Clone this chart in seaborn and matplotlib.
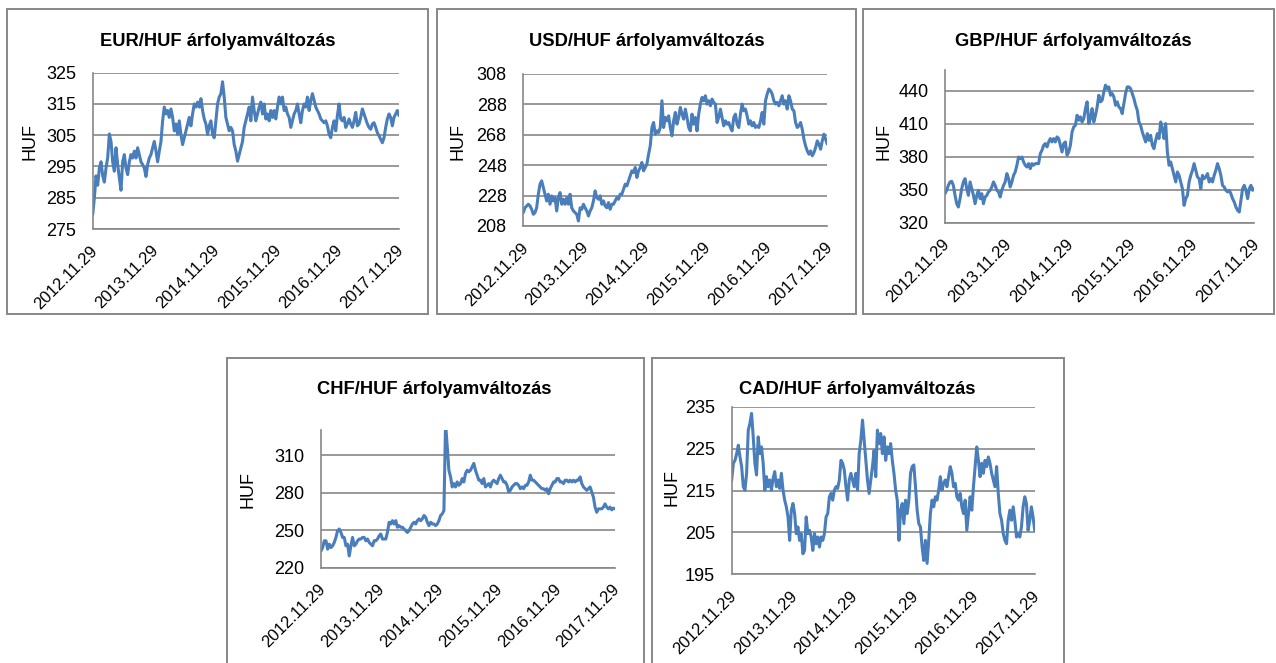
import pandas as pd
import matplotlib.pyplot as plt
import matplotlib.transforms as mtransforms
from matplotlib.patches import Rectangle
import seaborn as sns

# Tick labels / date range shared by all five panels
tick_labels = ["2012.11.29", "2013.11.29", "2014.11.29", "2015.11.29", "2016.11.29", "2017.11.29"]
start_date, end_date = "2012-11-29", "2017-11-29"

# Exchange rates (HUF), evenly spaced between start and end
eur_huf = [279.6, 285, 292, 289, 294.5, 296.5, 292, 290, 294.5, 297.8, 305.4, 303, 296.5, 293.5, 301,
           295.6, 291.3, 287.4, 296.5, 298.8, 294.5, 292.4, 296.5, 298.8, 297.7, 299.9, 297.7, 301, 298.8,
           296.5, 295.6, 294.5, 291.8, 295.6, 297.7, 298.8, 301, 303, 300, 296.5, 299.9, 303, 309.6, 314,
           311.8, 312.9, 310.7, 313.4, 310.7, 306.4, 308.6, 305.3, 309.6, 305.3, 302, 304.2, 306.4, 308.6,
           310.7, 308, 311.8, 315, 314, 315.6, 314, 316.7, 312.9, 310.2, 308.6, 305.3, 308, 309.6, 305.3,
           304.2, 309.6, 315, 317.2, 318.3, 322.1, 317.2, 310.7, 308.6, 306.4, 307.5, 306.4, 302, 299.9,
           296.7, 298.8, 301, 303, 307.5, 309.6, 311.8, 314, 309.6, 317.2, 312.9, 309.6, 311.8, 314, 315.6,
           311.8, 315, 310.2, 311.8, 309.6, 312.9, 310.7, 312.9, 310.2, 314, 317.2, 315, 317.2, 312.9, 314,
           311.8, 310.7, 307.5, 309.6, 311.8, 312.9, 315, 311.8, 309, 312.9, 315, 314, 317.2, 312.9, 316.1,
           318.3, 316.1, 314, 312.9, 311.8, 310.2, 309.6, 309, 309.6, 308, 305.3, 304.2, 307.5, 309.6, 306.4,
           311.3, 315, 310.2, 309.6, 310.7, 307.5, 308.6, 310.2, 308.6, 307.5, 309.6, 312.3, 308, 308.6,
           310.7, 313.4, 311.8, 310.2, 308.6, 307.5, 306.9, 308.6, 309, 307.5, 305.8, 304.8, 303.7, 302.6,
           304.2, 307.5, 310.2, 311.8, 310.7, 308, 310.7, 311.8, 312.9, 311.3]

usd_huf = [216.8, 220, 221.2, 222.3, 221.2, 219, 215.7, 216.8, 220, 228.9, 235.5, 237.7, 233.3, 228.9,
           224.5, 228.9, 222.3, 227.8, 224.5, 226.7, 217.9, 226.7, 230, 222.3, 225.6, 222.3, 226.7, 222.3,
           228.9, 220, 217.9, 216.8, 215.7, 211.3, 220, 219, 222.3, 220, 217.9, 214.6, 217.9, 220, 224.5,
           231.1, 226.7, 225.6, 227.8, 222.3, 224.5, 221.2, 220, 223.4, 219, 222.3, 222.3, 224.5, 226.7,
           225.6, 228.9, 228.9, 232.2, 235.5, 234.4, 237.7, 241, 244.3, 243.2, 246.5, 239.9, 244.3, 246.5,
           249.8, 244.3, 246.5, 248.7, 255.2, 260.7, 272.8, 276.1, 268.4, 270.6, 269.5, 272.8, 290.4, 272.8,
           279.4, 277.2, 280.5, 272.8, 267.3, 277.2, 282.7, 275, 279.4, 286, 281.6, 278.3, 284.9, 279.4,
           272.8, 270.6, 281.6, 275, 279.4, 270.6, 281.6, 288.2, 292.6, 290.4, 293.7, 288.2, 290.4, 287.1,
           291.5, 289.3, 288.2, 276.1, 279.4, 284.9, 279.4, 273.9, 277.2, 275, 276.1, 272.8, 270.6, 279.4,
           281.6, 275, 272.8, 281.6, 288.2, 283.8, 284.9, 280.5, 275, 277.2, 273.9, 276.1, 272.8, 273.9,
           272.8, 277.2, 282.7, 275, 290.4, 294.8, 298.1, 297, 294.8, 290.4, 288.2, 289.3, 287.1, 290.4,
           293.7, 288.2, 290.4, 284.9, 293.7, 290.4, 284.9, 283.8, 276.1, 272.8, 273.9, 276.1, 271.7, 265.1,
           260.7, 257.4, 255.2, 257.4, 254.2, 256.3, 259.6, 264, 261.8, 258.5, 264, 268.4, 265.1, 261.8]

gbp_huf = [346.4, 349.5, 354, 357.1, 357.7, 354, 344.9, 337.3, 334.3, 341.9, 351, 357.1, 360.1, 351,
           344.9, 357.1, 351, 344.9, 337.3, 344.9, 349.5, 341.9, 346.4, 337.3, 343.4, 344.9, 348, 349.5,
           352.5, 357.1, 354, 349.5, 348, 343.4, 349.5, 354, 357.1, 364.7, 360.1, 352.5, 357.1, 363.1, 366.2,
           372.3, 379.8, 378.3, 379.8, 375.3, 372.3, 370.7, 373.8, 369.2, 373.8, 372.3, 373.8, 373.8, 373.8,
           382.9, 385.9, 390.5, 392, 389, 393.5, 396.6, 393.5, 396.6, 393.5, 398.1, 396.6, 390.5, 384.4, 392,
           393.5, 381.4, 384.4, 390.5, 402.6, 407.2, 408.7, 417.8, 413.3, 416.3, 411.7, 414.8, 423.9, 430,
           410.2, 414.8, 423.9, 411.7, 417.8, 425.4, 436, 430, 431.5, 439.1, 445.2, 442.1, 443.6, 436, 437.6,
           434.5, 426.9, 430, 425.4, 423.9, 419.3, 428.5, 437.6, 443.6, 443.6, 442.1, 437.6, 433, 426.9,
           422.4, 411.7, 408.7, 402.6, 398.1, 393.5, 401.1, 395, 399.6, 390.5, 387.4, 395, 401.1, 396.6,
           411.7, 405.7, 396.6, 410.2, 384.4, 372.3, 375.3, 369.2, 363.1, 357.1, 366.2, 363.1, 357.1, 351,
           335.8, 341.9, 344.9, 357.1, 363.1, 367.7, 373.8, 367.7, 361.6, 360.1, 351, 363.1, 360.1, 361.6,
           364.7, 357.1, 360.1, 357.1, 363.1, 367.7, 373.8, 369.2, 363.1, 354, 352.5, 349.5, 348, 349.5,
           346.4, 341.9, 338.8, 334.3, 331.2, 329.7, 340.4, 351, 354, 349.5, 341.9, 351, 354, 349.5, 351]

chf_huf = [233.4, 236.1, 241.5, 241.5, 234.8, 238.8, 236.1, 237.5, 240.2, 244.2, 249.6, 250.9, 248.2,
           244.2, 244.2, 237.5, 238.8, 229.4, 237.5, 244.2, 237.5, 238.8, 241.5, 242.9, 242.9, 244.2, 244.2,
           241.5, 242.9, 240.2, 238.8, 237.5, 241.5, 241.5, 242.9, 245.5, 246.9, 242.9, 242.9, 242.9, 248.2,
           256.3, 254.9, 257.6, 254.9, 257.6, 252.3, 253.6, 252.3, 252.3, 250.9, 249.6, 248.2, 249.6, 252.3,
           254.9, 256.3, 254.9, 257.6, 259, 257.6, 259, 261.7, 260.3, 256.3, 253.6, 256.3, 254.9, 254.9,
           253.6, 254.9, 257.6, 261.7, 263, 265.7, 335.5, 316.7, 297.9, 292.5, 284.5, 287.2, 284.5, 288.5,
           285.8, 287.2, 291.2, 288.5, 295.2, 297.9, 296.6, 297.9, 300.6, 303.3, 297.9, 293.9, 289.9, 289.9,
           287.2, 291.2, 284.5, 285.8, 287.2, 284.5, 288.5, 289.9, 288.5, 287.2, 291.2, 293.9, 291.2, 288.5,
           288.5, 285.8, 280.5, 281.8, 284.5, 285.8, 287.2, 287.2, 285.8, 283.1, 284.5, 283.1, 285.8, 285.8,
           288.5, 293.9, 289.9, 289.9, 288.5, 287.2, 285.8, 284.5, 283.1, 283.1, 281.8, 283.1, 279.1, 283.1,
           285.8, 288.5, 288.5, 291.2, 291.2, 288.5, 288.5, 287.2, 289.9, 289.9, 288.5, 289.9, 288.5, 289.9,
           288.5, 289.9, 289.9, 292.5, 287.2, 284.5, 283.1, 281.8, 283.1, 284.5, 280.5, 276.4, 268.4, 264.3,
           267, 267, 267, 268.4, 271, 268.4, 267, 268.4, 266.2, 267.6, 267]

cad_huf = [217.5, 221.5, 222.2, 223.8, 225.8, 223, 220.7, 215.9, 215.1, 219.1, 229.4, 231, 233.4, 227.8,
           221.5, 218.7, 227.8, 223.8, 225.4, 221.5, 215.1, 218.3, 215.9, 217.5, 215.1, 217.9, 219.5, 215.9,
           217.5, 215.5, 219.1, 215.1, 212.7, 211.1, 208.7, 203.1, 210.3, 211.9, 209.5, 204.7, 206.3, 203.1,
           204.7, 199.9, 200.7, 208.7, 204.7, 205.5, 203.9, 200.7, 204.7, 202.3, 203.9, 201.5, 203.9, 203.1,
           204.7, 208.7, 209.5, 213.5, 214.3, 212.7, 215.1, 215.9, 215.5, 217.5, 222.2, 221.5, 219.9, 215.9,
           212.7, 217.5, 219.1, 217.5, 215.9, 219.1, 215.1, 223.8, 227, 231.8, 227, 222.2, 217.5, 214.3,
           217.5, 220.7, 224.6, 218.3, 229.4, 226.2, 228.6, 223.8, 227.8, 222.2, 225.4, 223.8, 226.2, 222.2,
           219.1, 215.1, 212.7, 203.1, 210.3, 211.9, 207.1, 212.7, 209.5, 212.7, 219.1, 220.7, 221.1, 215.9,
           210.3, 207.1, 206.3, 201.5, 198.3, 203.1, 197.6, 203.1, 209.5, 212.7, 211.1, 213.5, 212.7, 215.1,
           218.3, 215.1, 216.7, 217.5, 215.9, 218.3, 220.7, 219.1, 215.9, 216.7, 213.5, 212.7, 214.3, 211.1,
           209.5, 212.7, 205.5, 209.5, 213.5, 210.3, 215.9, 220.7, 225.4, 222.2, 218.3, 221.5, 219.1, 222.2,
           220.7, 223, 221.5, 219.1, 217.5, 215.9, 220.7, 214.3, 209.5, 207.9, 204.7, 203.1, 202.3, 207.9,
           210.3, 207.9, 211.1, 207.9, 203.9, 204.7, 203.9, 206.3, 211.1, 213.5, 211.9, 205.5, 207.9, 211.1,
           208.7, 205.5]

titles = ["EUR/HUF árfolyamváltozás", "USD/HUF árfolyamváltozás", "GBP/HUF árfolyamváltozás",
          "CHF/HUF árfolyamváltozás", "CAD/HUF árfolyamváltozás"]

sns.set_theme(style="white")
plt.rcParams["font.family"] = ["Liberation Sans", "DejaVu Sans"]

W, H = 1276, 663
LINE = "#4a7ebb"
GRAY = "#878787"

fig = plt.figure(figsize=(W / 100, H / 100), dpi=100)


def px_rect(x0, y0, x1, y1):
    # pixel box (top-left origin) -> figure fraction [l, b, w, h]
    return [x0 / W, 1 - y1 / H, (x1 - x0) / W, (y1 - y0) / H]


# panel frames
frames = [(7, 9, 428, 314), (437, 9, 856, 314), (863, 9, 1274, 314),
          (227, 358, 644, 675), (652, 358, 1064, 675)]
for x0, y0, x1, y1 in frames:
    fig.patches.append(Rectangle((x0 / W, 1 - y1 / H), (x1 - x0) / W, (y1 - y0) / H,
                                 transform=fig.transFigure, fill=False, edgecolor=GRAY, lw=1.4))

panels = [
    # values, plot box, ylim, yticks, title pos, ylabel right edge pos
    (eur_huf, (92.7, 72.7, 399, 229), (275, 325), range(275, 326, 10), (217.7, 41), (38, 142)),
    (usd_huf, (523.3, 74, 827.3, 226), (208, 308), range(208, 309, 20), (646.7, 41), (467, 142)),
    (gbp_huf, (945, 70, 1254.3, 222.7), (320, 459), range(320, 441, 30), (1073, 41), (893, 141)),
    (chf_huf, (321, 430, 615, 567.7), (220, 330), range(220, 311, 30), (434.5, 390), (257, 489)),
    (cad_huf, (731.7, 406.7, 1034.7, 574.3), (195, 235), range(195, 236, 10), (857.5, 390), (680, 488)),
]

ticks = pd.to_datetime(tick_labels, format="%Y.%m.%d")
shift_left = mtransforms.ScaledTranslation(-3 / 100, 0, fig.dpi_scale_trans)

for (vals, box, ylim, yticks, tpos, lpos), title in zip(panels, titles):
    ax = fig.add_axes(px_rect(*box))
    dates = pd.date_range(start_date, end_date, periods=len(vals))
    sns.lineplot(x=dates, y=vals, ax=ax, color=LINE, linewidth=2.2)
    ax.set_xlim(ticks[0], ticks[-1])
    ax.set_ylim(*ylim)
    ax.set_yticks(list(yticks))
    ax.set_xticks(ticks)
    ax.set_xticklabels(tick_labels, rotation=45, ha="right", va="top", rotation_mode="anchor")
    ax.tick_params(axis="both", colors="black", length=4, width=1.1,
                   direction="out", color=GRAY)
    ax.tick_params(axis="y", labelsize=13, pad=8)
    ax.tick_params(axis="x", labelsize=12, pad=6)
    for lab in ax.get_xticklabels():
        lab.set_transform(lab.get_transform() + shift_left)
    ax.set_axisbelow(True)
    ax.yaxis.grid(True, color=GRAY, linewidth=1.2)
    ax.xaxis.grid(False)
    for side in ["top", "right"]:
        ax.spines[side].set_visible(False)
    for side in ["left", "bottom"]:
        ax.spines[side].set_color(GRAY)
        ax.spines[side].set_linewidth(1.2)
    ax.set_xlabel("")
    ax.set_ylabel("HUF", fontsize=13, color="black")
    ax.yaxis.set_label_coords(lpos[0] / W, 1 - lpos[1] / H, transform=fig.transFigure)
    fig.text(tpos[0] / W, 1 - tpos[1] / H, title, ha="center", va="center",
             fontsize=13.2, fontweight="bold", color="black")

fig.savefig("out.png", dpi=100, facecolor="white")
